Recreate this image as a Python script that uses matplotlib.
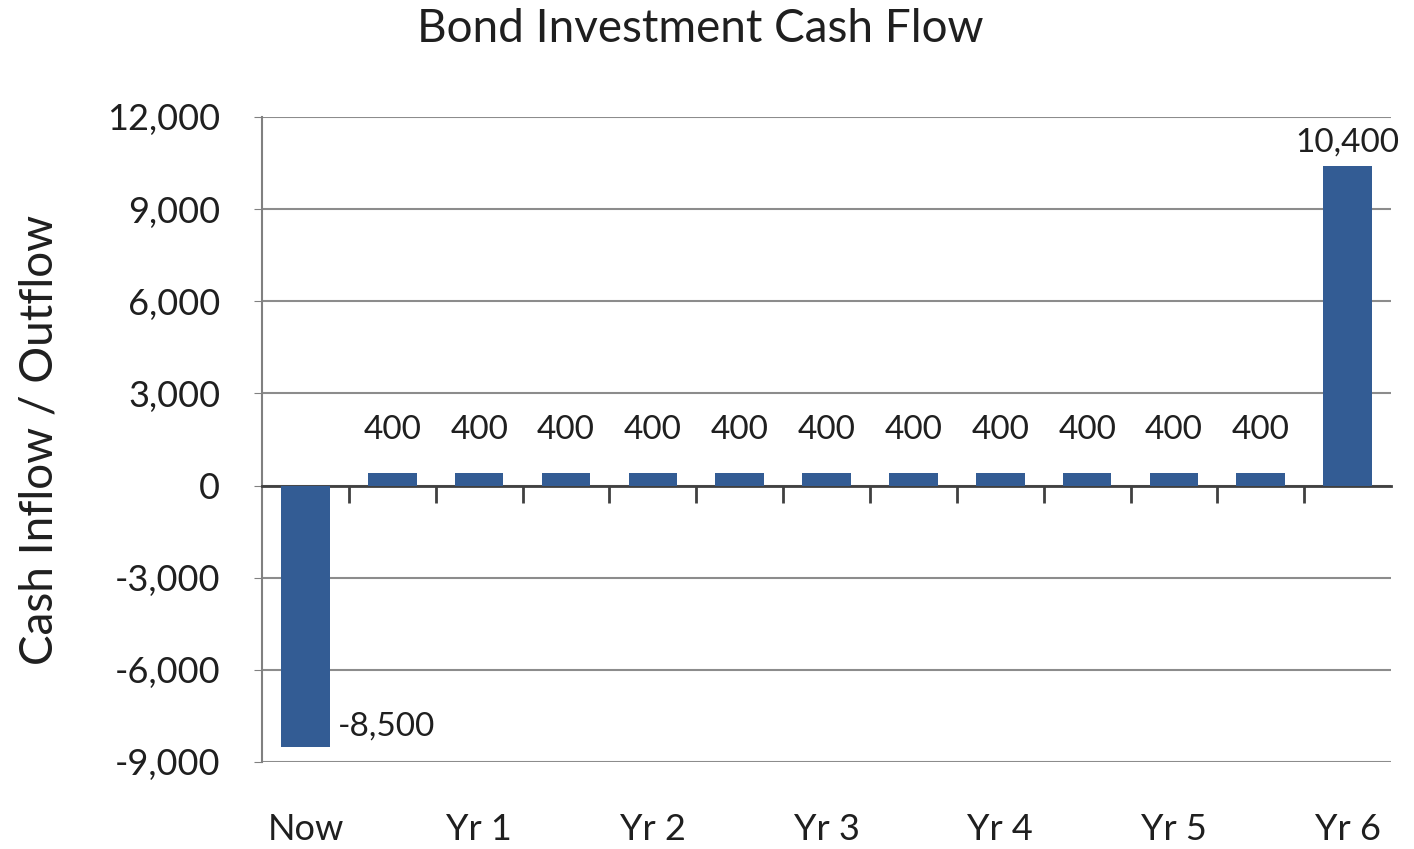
import numpy as np
import matplotlib.pyplot as plt

periods = ["Now", "", "Yr 1", "", "Yr 2", "", "Yr 3", "", "Yr 4", "", "Yr 5", "", "Yr 6"]
cash_flow = [-8500, 400, 400, 400, 400, 400, 400, 400, 400, 400, 400, 400, 10400]
y_ticks = [-9000, -6000, -3000, 0, 3000, 6000, 9000, 12000]

plt.rcParams['font.family'] = ['Lato', 'DejaVu Sans']

fig = plt.figure(figsize=(14.14, 8.49), dpi=100)
ax = fig.add_axes([0.1853, 0.1025, 0.7985, 0.7597])

x = np.arange(len(cash_flow))
bars = ax.bar(x, cash_flow, width=0.56, color="#335c94", zorder=3)

ax.set_xlim(-0.5, len(cash_flow) - 0.5)
ax.set_ylim(-9000, 12000)
ax.set_yticks(y_ticks)
ax.set_yticklabels([f"{v:,}" for v in y_ticks], fontsize=26, color="#1f1f1f")
ax.tick_params(axis="y", length=6, color="#808080", pad=24)
ax.yaxis.grid(True, color="#8c8c8c", linewidth=1.5, zorder=0)

# category boundaries as ticks on the zero line, labels drawn at the bottom
ax.spines["bottom"].set_position(("data", 0))
ax.spines["bottom"].set_color("#404040")
ax.spines["bottom"].set_linewidth(2)
ax.set_xticks(np.arange(0.5, len(cash_flow) - 1, 1.0))
ax.set_xticklabels([])
ax.tick_params(axis="x", length=12, width=2, color="#404040", direction="out")
for xi, lab in zip(x, periods):
    if lab:
        ax.text(xi, -0.105, lab, transform=ax.get_xaxis_transform(),
                ha="center", va="center", fontsize=26, color="#1f1f1f")

ax.spines["left"].set_color("#808080")
ax.spines["left"].set_linewidth(1.5)
ax.spines["top"].set_visible(False)
ax.spines["right"].set_visible(False)

for xi, v in zip(x, cash_flow):
    if v < 0:
        ax.annotate(f"{v:,}", (xi + 0.28, v), xytext=(6, 4),
                    textcoords="offset points", ha="left", va="bottom",
                    fontsize=24, color="#1f1f1f")
    else:
        ax.annotate(f"{v:,}", (xi, v), xytext=(0, 20 if v < 1000 else 6),
                    textcoords="offset points", ha="center", va="bottom",
                    fontsize=24, color="#1f1f1f")

ax.set_ylabel("Cash Inflow / Outflow", fontsize=33, color="#1f1f1f", labelpad=34)
fig.suptitle("Bond Investment Cash Flow", x=0.495, y=0.99, fontsize=33, color="#1f1f1f")

fig.savefig("out.png", dpi=100, facecolor="white")
